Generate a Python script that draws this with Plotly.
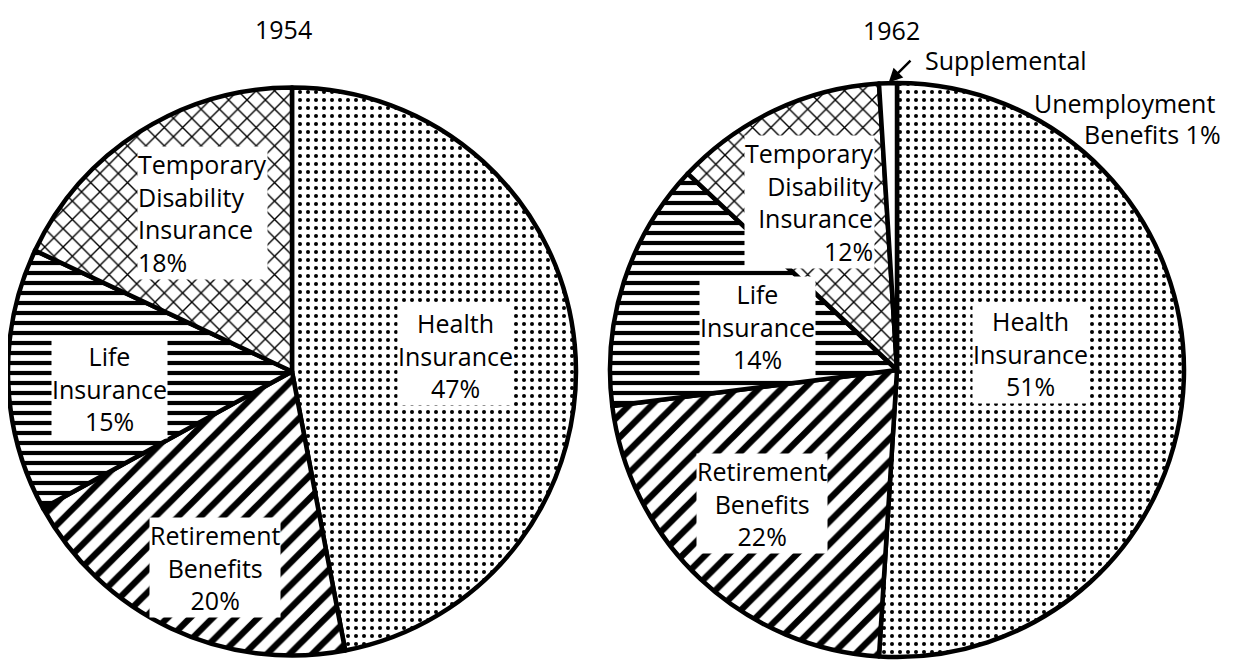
import math
import plotly.graph_objects as go

# ---------------- data ----------------
YEARS = ["1954", "1962"]
CATEGORIES_1954 = ["Health Insurance", "Retirement Benefits", "Life Insurance",
                   "Temporary Disability Insurance"]
VALUES_1954 = [47, 20, 15, 18]
CATEGORIES_1962 = ["Health Insurance", "Retirement Benefits", "Life Insurance",
                   "Temporary Disability Insurance", "Supplemental Unemployment Benefits"]
VALUES_1962 = [51, 22, 14, 12, 1]

# ---------------- styling ----------------
W, H = 1234, 662
OFF = 8  # page body margin of the browser
FONT = "Open Sans"
FS = 25
LABEL_LINES = {
    "Health Insurance": "Health<br>Insurance",
    "Retirement Benefits": "Retirement<br>Benefits",
    "Life Insurance": "Life<br>Insurance",
    "Temporary Disability Insurance": "Temporary<br>Disability<br>Insurance",
}
PATTERN = {  # shape, size, solidity
    "Health Insurance": (".", 8, 0.2),
    "Retirement Benefits": ("/", 16, 0.4),
    "Life Insurance": ("-", 10, 0.42),
    "Temporary Disability Insurance": ("x", 13, 0.2),
    "Supplemental Unemployment Benefits": ("", 8, 0.2),
}
# pie centre (x, y) and radius on the page, in pixels
PIE_GEOM = [(292, 371.5, 284), (897, 370, 287)]
TITLE_POS = [(283, 29), (891, 30)]
# label placement: (radius fraction, angle shift from slice middle in degrees, text align)
PLACE = [
    {"Health Insurance": (0.58, 0, "center"),
     "Retirement Benefits": (0.74, -3.7, "center"),
     "Life Insurance": (0.645, -3.5, "center"),
     "Temporary Disability Insurance": (0.64, 3.0, "left")},
    {"Health Insurance": (0.47, -9, "center"),
     "Retirement Benefits": (0.66, 2.2, "center"),
     "Life Insurance": (0.51, -0.6, "center"),
     "Temporary Disability Insurance": (0.66, -2.4, "right")},
]


def px(x, y):
    """page pixel -> paper coordinates"""
    return (x - OFF) / W, 1 - (y - OFF) / H


fig = go.Figure()
annotations = []
datasets = [(CATEGORIES_1954, VALUES_1954), (CATEGORIES_1962, VALUES_1962)]
txtfont = dict(family=FONT, size=FS, color="black")

for i, (cats, vals) in enumerate(datasets):
    cx, cy, R = PIE_GEOM[i]
    x0, y1 = px(cx - R, cy - R)
    x1, y0 = px(cx + R, cy + R)
    dom = dict(x=[max(0, x0), min(1, x1)], y=[max(0, y0), min(1, y1)])
    fig.add_trace(go.Pie(
        labels=cats, values=vals, sort=False, direction="clockwise", rotation=0,
        domain=dom, textinfo="none", hoverinfo="skip", showlegend=False,
        marker=dict(
            colors=["white"] * len(cats),
            line=dict(color="black", width=4.5),
            pattern=dict(
                shape=[PATTERN[c][0] for c in cats],
                size=[PATTERN[c][1] for c in cats],
                solidity=[PATTERN[c][2] for c in cats],
                fgcolor="black", bgcolor="white", fillmode="replace",
            ),
        ),
    ))
    total = sum(vals)
    acc = 0
    for c, v in zip(cats, vals):
        mid = (acc + v / 2) / total * 360
        acc += v
        if c in PLACE[i]:
            rf, shift, al = PLACE[i][c]
            a = math.radians(mid + shift)
            ax_, ay_ = px(cx + rf * R * math.sin(a), cy - rf * R * math.cos(a))
            annotations.append(dict(
                x=ax_, y=ay_, xref="paper", yref="paper", showarrow=False,
                xanchor="center", yanchor="middle",
                text=f"{LABEL_LINES[c]}<br>{v}%", align=al, font=txtfont,
                bgcolor="white", borderpad=0,
            ))
        elif c == "Supplemental Unemployment Benefits":
            a = math.radians(mid)
            hx, hy = cx + R * math.sin(a), cy - R * math.cos(a)
            hxp, hyp = px(hx, hy)
            annotations.append(dict(
                x=hxp, y=hyp, xref="paper", yref="paper", showarrow=True,
                ax=24, ay=-24, text="", arrowhead=2, arrowsize=1.1,
                arrowwidth=2.5, arrowcolor="black", standoff=1,
            ))
            for dx, dy, t in [(118, -23, "Supplemental"),
                              (237, 20, "Unemployment"),
                              (265, 51, f"Benefits {v}%")]:
                tx, ty = px(hx + dx, hy + dy)
                annotations.append(dict(
                    x=tx, y=ty, xref="paper", yref="paper", showarrow=False,
                    xanchor="center", yanchor="middle", text=t, font=txtfont,
                ))
    tx, ty = px(*TITLE_POS[i])
    annotations.append(dict(
        x=tx, y=ty, xref="paper", yref="paper", showarrow=False,
        xanchor="center", yanchor="middle", text=YEARS[i], font=txtfont,
    ))

fig.update_layout(
    width=W, height=H, margin=dict(l=0, r=0, t=0, b=0),
    paper_bgcolor="white", plot_bgcolor="white",
    annotations=annotations,
)
fig.write_html("out.html")
